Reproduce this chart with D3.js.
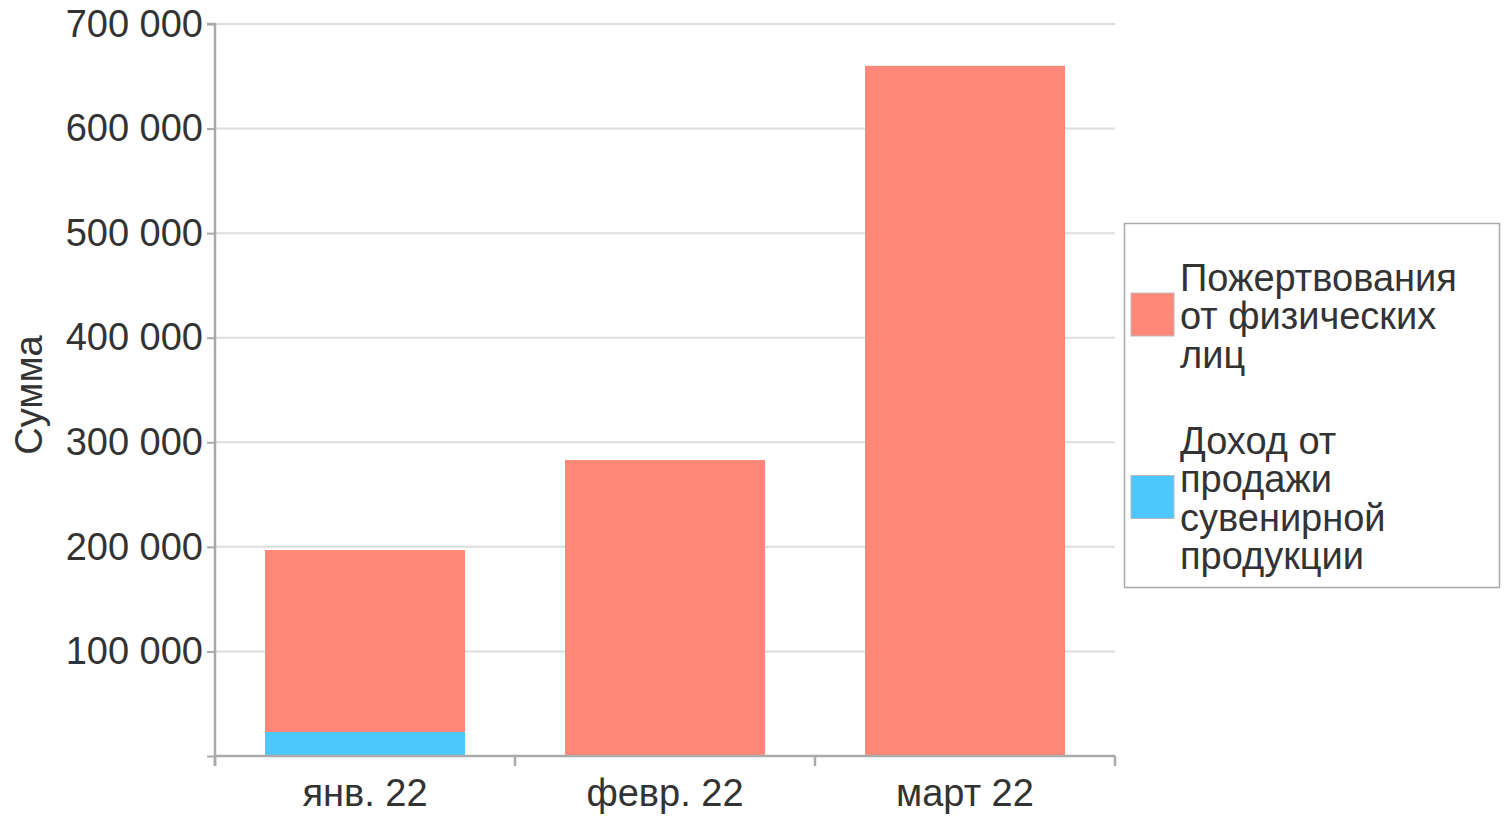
<!DOCTYPE html>
<html><head><meta charset="utf-8">
<script src="https://cdn.jsdelivr.net/npm/d3@7"></script>
<style>body{margin:0;background:#fff;} text{font-family:"Liberation Sans",Arial,sans-serif;fill:#333;}</style>
</head><body>
<svg id="c" width="1509" height="823"></svg>
<script>
const categories = ["янв. 22", "февр. 22", "март 22"];
const seriesNames = [["Пожертвования","от физических","лиц"], ["Доход от","продажи","сувенирной","продукции"]];
const donations = [174000, 283000, 660000];
const souvenirs = [23000, 0, 0];
const yTicks = [100000, 200000, 300000, 400000, 500000, 600000, 700000];
const colors = ["#FF8878", "#4CC8FF"];

const FS = "38px";
const svg = d3.select("#c");
const x0 = 215, x1 = 1115, yTop = 24, yBot = 756;
const x = d3.scaleBand().domain(categories).range([x0, x1]).paddingInner(1/3).paddingOuter(1/6);
const y = d3.scaleLinear().domain([0, 700000]).range([yBot, yTop]);
const fmt = v => d3.format(",")(v).replace(/,/g, " ");

// gridlines
svg.append("g").selectAll("line").data(yTicks).join("line")
  .attr("x1", x0).attr("x2", x1).attr("y1", d => y(d)).attr("y2", d => y(d))
  .attr("stroke", "#ddd").attr("stroke-width", 2);

// stacked bars
const stackData = categories.map((c, i) => ({cat: c, s: souvenirs[i], d: donations[i]}));
const stack = d3.stack().keys(["s", "d"])(stackData);
const keyColor = {s: colors[1], d: colors[0]};
stack.forEach(layer => {
  svg.append("g").selectAll("rect").data(layer.filter(p => p[1] > p[0])).join("rect")
    .attr("x", p => x(p.data.cat)).attr("width", x.bandwidth())
    .attr("y", p => y(p[1])).attr("height", p => y(p[0]) - y(p[1]))
    .attr("fill", keyColor[layer.key]);
});

// y axis
const yAxis = d3.axisLeft(y).tickValues(yTicks.concat([0])).tickFormat(d => d === 0 ? "" : fmt(d)).tickSize(8).tickPadding(4);
const gy = svg.append("g").attr("transform", `translate(${x0},0)`).call(yAxis);
gy.select(".domain").attr("stroke", "#aaa").attr("stroke-width", 2.5).attr("d", `M-8,${yTop}H0V${yBot + 10}`);
gy.selectAll(".tick line").attr("stroke", "#aaa").attr("stroke-width", 2);
gy.selectAll(".tick text").style("font-size", FS).attr("fill", "#333").style("font-family", "Liberation Sans, Arial, sans-serif");

// x axis
const xb = d3.scalePoint().domain(d3.range(categories.length + 1)).range([x0, x1]);
const gx = svg.append("g").attr("transform", `translate(0,${yBot})`);
gx.append("line").attr("x1", x0).attr("x2", x1).attr("stroke", "#aaa").attr("stroke-width", 2.5);
gx.selectAll("line.t").data(d3.range(categories.length + 1)).join("line").attr("class", "t")
  .attr("x1", d => xb(d)).attr("x2", d => xb(d)).attr("y1", 0).attr("y2", 10)
  .attr("stroke", "#aaa").attr("stroke-width", 2.5);
gx.selectAll("text").data(categories).join("text")
  .attr("x", d => x(d) + x.bandwidth() / 2).attr("y", 50)
  .attr("text-anchor", "middle").style("font-size", FS).text(d => d);

// y title
svg.append("text").attr("transform", "translate(42,395) rotate(-90)")
  .attr("text-anchor", "middle").style("font-size", FS).text("Сумма");

// legend
svg.append("rect").attr("x", 1124.5).attr("y", 223.5).attr("width", 375).attr("height", 364)
  .attr("fill", "#fff").attr("stroke", "#aaa").attr("stroke-width", 1.5);
const legCenters = [315, 497.5];
seriesNames.forEach((lines, i) => {
  const c = legCenters[i];
  svg.append("rect").attr("x", 1131).attr("y", c - 22).attr("width", 43).attr("height", 43)
    .attr("fill", colors[i]).attr("stroke", "#bbb").attr("stroke-width", 1);
  const n = lines.length, lh = 38.5;
  const t = svg.append("text").style("font-size", FS);
  lines.forEach((ln, j) => {
    t.append("tspan").attr("x", 1180).attr("y", c + (j - (n - 1) / 2) * lh + 14).text(ln);
  });
});
</script>
</body></html>
